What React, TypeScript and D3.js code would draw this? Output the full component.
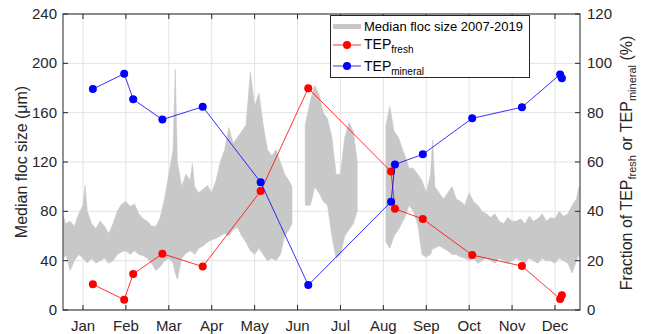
import React from 'react';
import * as d3 from 'd3';

// month labels on x axis (month number 1..12)
const monthLabels = ['Jan', 'Feb', 'Mar', 'Apr', 'May', 'Jun', 'Jul', 'Aug', 'Sep', 'Oct', 'Nov', 'Dec'];
const leftTicks = [0, 40, 80, 120, 160, 200, 240];
const rightTicks = [0, 20, 40, 60, 80, 100, 120];

// TEP sampling dates (fractional month) and fractions (%)
const tepMonth = [1.23, 1.96, 2.17, 2.85, 3.79, 5.14, 6.25, 8.18, 8.27, 8.92, 10.07, 11.23, 12.12, 12.16];
const tepFresh = [10.4, 4.2, 14.6, 22.8, 17.6, 48.2, 89.9, 56.1, 41.0, 36.9, 22.3, 17.8, 4.5, 6.0];
const tepMineral = [89.6, 95.8, 85.4, 77.2, 82.4, 51.8, 10.1, 43.9, 59.0, 63.1, 77.7, 82.2, 95.5, 94.0];

// median floc size envelope (µm); null = no data
const flocMonth = [
  0.55, 0.6, 0.7, 0.8, 0.9, 1.0, 1.05, 1.1, 1.2, 1.3, 1.4, 1.5, 1.6, 1.7, 1.8, 1.9, 2.0, 2.1, 2.2, 2.3, 2.4, 2.5,
  2.6, 2.7, 2.8, 2.9, 3.0, 3.1, 3.15, 3.2, 3.3, 3.4, 3.5, 3.55, 3.6, 3.7, 3.8, 3.9, 4.0, 4.1, 4.2, 4.3, 4.4, 4.5,
  4.6, 4.7, 4.8, 4.9, 5.0, 5.1, 5.2, 5.3, 5.4, 5.5, 5.6, 5.7, 5.8, 5.87, 6.0, 6.18, 6.3, 6.4, 6.5, 6.6, 6.7, 6.8,
  6.9, 7.0, 7.1, 7.2, 7.3, 7.39, 7.7, 8.06, 8.15, 8.25, 8.35, 8.5, 8.6, 8.7, 8.8, 8.9, 9.0, 9.1, 9.15, 9.2, 9.3,
  9.4, 9.5, 9.6, 9.7, 9.8, 9.9, 10.0, 10.1, 10.2, 10.3, 10.4, 10.5, 10.6, 10.7, 10.8, 10.9, 11.0, 11.1, 11.2,
  11.3, 11.4, 11.5, 11.6, 11.7, 11.8, 11.9, 12.0, 12.1, 12.2, 12.3, 12.4, 12.5, 12.56,
];
const flocLo = [
  42, 45, 32, 40, 45, 42, 40, 38, 42, 38, 40, 42, 38, 40, 45, 47, 48, 45, 48, 45, 44, 42,
  38, 32, 35, 40, 42, 38, 30, 25, 42, 46, 48, 47, 45, 50, 52, 55, 57, 58, 60, 62, 60, 65,
  67, 60, 55, 48, 45, 50, 45, 40, 42, 40, 45, 60, 65, 70, null, 85, 85, 100, 95, 88, 85, 60,
  42, 45, 60, 65, 70, 80, null, 55, 50, 60, 65, 75, 85, 80, 70, 45, 43, 45, 50, 50, 52,
  50, 48, 45, 45, 43, 42, 40, 42, 38, 40, 42, 40, 38, 42, 40, 38, 40, 42, 40,
  38, 42, 40, 38, 42, 40, 40, 38, 42, 40, 38, 30, 40, 45,
];
const flocHi = [
  75, 70, 72, 68, 78, 85, 101, 80, 70, 66, 72, 68, 62, 70, 80, 86, 88, 84, 86, 78, 74, 72,
  68, 68, 75, 90, 110, 130, 195, 120, 100, 110, 105, 119, 100, 95, 98, 101, 95, 105, 120, 130, 148, 135,
  140, 145, 150, 193, 165, 176, 150, 130, 125, 130, 120, 110, 105, 100, null, 150, 170, 182, 175, 160, 155, 140,
  110, 110, 140, 152, 145, 120, null, 150, 165, 145, 140, 125, 115, 115, 110, 105, 95, 110, 138, 100, 95,
  90, 95, 100, 90, 88, 85, 95, 88, 85, 80, 78, 75, 78, 72, 70, 75, 72, 72, 74,
  70, 76, 72, 74, 78, 72, 75, 74, 80, 76, 78, 85, 90, 100,
];

const W = 646;
const H = 334;
const plot = { left: 63, right: 580, top: 14, bottom: 310 };
const axisColor = '#262626';
const gridColor = '#e3e3e3';
const flocColor = '#c8c8c8';
const font = '"Liberation Sans", Arial, Helvetica, sans-serif';

export default function App() {
  const x = d3.scaleLinear().domain([0.534, 12.583]).range([plot.left, plot.right]);
  const yL = d3.scaleLinear().domain([0, 240]).range([plot.bottom, plot.top]);
  const yR = d3.scaleLinear().domain([0, 120]).range([plot.bottom, plot.top]);

  const flocData = flocMonth.map((m, i) => ({ m, lo: flocLo[i], hi: flocHi[i] }));
  const flocArea = d3.area<any>()
    .defined(d => d.lo != null && d.hi != null)
    .x(d => x(d.m))
    .y0(d => yL(d.lo))
    .y1(d => yL(d.hi));

  const freshPts = tepMonth.map((m, i) => [x(m), yR(tepFresh[i])] as [number, number]);
  const minPts = tepMonth.map((m, i) => [x(m), yR(tepMineral[i])] as [number, number]);
  const line = d3.line();

  const tickLen = 5;
  const monthTicks = d3.range(1, 13);

  return (
    <svg width={W} height={H} style={{ position: 'absolute', left: 0, top: 0, background: '#fff' }}
      fontFamily={font}>
      {/* grid */}
      <g stroke={gridColor} strokeWidth={1}>
        {monthTicks.map(m => (
          <line key={'gx' + m} x1={x(m)} x2={x(m)} y1={plot.top} y2={plot.bottom} />
        ))}
        {leftTicks.map(v => (
          <line key={'gy' + v} x1={plot.left} x2={plot.right} y1={yL(v)} y2={yL(v)} />
        ))}
      </g>

      {/* floc size band */}
      <path d={flocArea(flocData) || ''} fill={flocColor} stroke={flocColor} strokeWidth={0.6} />

      {/* TEP fresh */}
      <path d={line(freshPts) || ''} fill="none" stroke="#ff0000" strokeWidth={1} strokeOpacity={0.8} />
      {freshPts.map((p, i) => <circle key={'f' + i} cx={p[0]} cy={p[1]} r={4} fill="#ff0000" />)}

      {/* TEP mineral */}
      <path d={line(minPts) || ''} fill="none" stroke="#0000ff" strokeWidth={1} strokeOpacity={0.8} />
      {minPts.map((p, i) => <circle key={'b' + i} cx={p[0]} cy={p[1]} r={4} fill="#0000ff" />)}

      {/* axes box and ticks */}
      <rect x={plot.left} y={plot.top} width={plot.right - plot.left} height={plot.bottom - plot.top}
        fill="none" stroke={axisColor} strokeWidth={1} />
      <g stroke={axisColor} strokeWidth={1}>
        {monthTicks.map(m => (
          <g key={'tx' + m}>
            <line x1={x(m)} x2={x(m)} y1={plot.bottom} y2={plot.bottom - tickLen} />
            <line x1={x(m)} x2={x(m)} y1={plot.top} y2={plot.top + tickLen} />
          </g>
        ))}
        {leftTicks.map(v => (
          <line key={'tl' + v} x1={plot.left} x2={plot.left + tickLen} y1={yL(v)} y2={yL(v)} />
        ))}
        {rightTicks.map(v => (
          <line key={'tr' + v} x1={plot.right} x2={plot.right - tickLen} y1={yR(v)} y2={yR(v)} />
        ))}
      </g>

      {/* tick labels */}
      <g fill={axisColor} fontSize={15}>
        {monthTicks.map(m => (
          <text key={'lx' + m} x={x(m)} y={331} textAnchor="middle">{monthLabels[m - 1]}</text>
        ))}
        {leftTicks.map(v => (
          <text key={'ll' + v} x={57} y={yL(v) + 5} textAnchor="end">{v}</text>
        ))}
        {rightTicks.map(v => (
          <text key={'lr' + v} x={587} y={yR(v) + 5} textAnchor="start">{v}</text>
        ))}
      </g>

      {/* axis titles */}
      <text transform="translate(27,162) rotate(-90)" textAnchor="middle" fontSize={16} fill={axisColor}>
        Median floc size (μm)
      </text>
      <text transform="translate(632,163) rotate(-90)" textAnchor="middle" fontSize={16} fill={axisColor}>
        Fraction of TEP<tspan fontSize={11} dy={4}>fresh</tspan>
        <tspan dy={-4}> or TEP</tspan><tspan fontSize={11} dy={4}>mineral</tspan>
        <tspan dy={-4}> (%)</tspan>
      </text>

      {/* legend */}
      <g>
        <rect x={330.5} y={15.5} width={199} height={62} fill="#fff" stroke={axisColor} strokeWidth={1} />
        <line x1={333} x2={361} y1={26.5} y2={26.5} stroke={flocColor} strokeWidth={5} />
        <text x={364} y={30.5} fontSize={13} fill="#000">Median floc size 2007-2019</text>

        <line x1={333} x2={361} y1={45} y2={45} stroke="#ff0000" strokeWidth={1} strokeOpacity={0.8} />
        <circle cx={347} cy={45} r={4} fill="#ff0000" />
        <text x={364} y={48.5} fontSize={14} fill="#000">
          TEP<tspan fontSize={10} dy={4.5}>fresh</tspan>
        </text>

        <line x1={333} x2={361} y1={66} y2={66} stroke="#0000ff" strokeWidth={1} strokeOpacity={0.8} />
        <circle cx={347} cy={66} r={4} fill="#0000ff" />
        <text x={364} y={70.5} fontSize={14} fill="#000">
          TEP<tspan fontSize={10} dy={4.5}>mineral</tspan>
        </text>
      </g>
    </svg>
  );
}
